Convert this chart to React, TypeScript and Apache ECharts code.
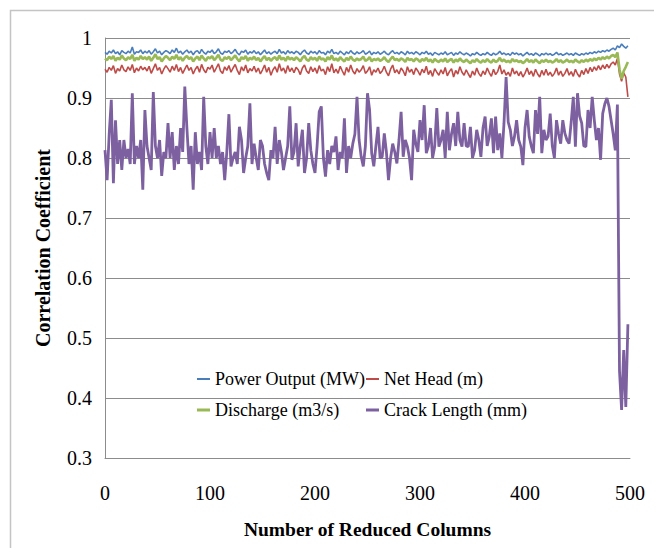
import React, { useEffect, useRef } from "react";
import * as echarts from "echarts";

// Number of reduced columns sampled every 2 columns
const columns: number[] = Array.from({ length: 250 }, (_, i) => i * 2);

const powerOutput: number[] = [
  0.976,0.973,0.978,0.975,0.980,0.974,0.977,0.972,0.979,0.976,
  0.974,0.978,0.975,0.985,0.973,0.977,0.976,0.980,0.974,0.978,
  0.975,0.979,0.973,0.977,0.982,0.975,0.978,0.972,0.976,0.979,
  0.977,0.974,0.980,0.976,0.983,0.975,0.978,0.973,0.977,0.980,
  0.975,0.978,0.972,0.977,0.979,0.974,0.981,0.976,0.973,0.978,
  0.976,0.980,0.974,0.977,0.982,0.975,0.973,0.978,0.976,0.979,
  0.974,0.977,0.981,0.975,0.972,0.978,0.976,0.980,0.973,0.977,
  0.975,0.979,0.974,0.977,0.972,0.976,0.980,0.974,0.977,0.973,
  0.976,0.978,0.974,0.981,0.975,0.977,0.973,0.979,0.975,0.977,
  0.974,0.978,0.976,0.972,0.977,0.980,0.975,0.973,0.978,0.975,
  0.977,0.973,0.979,0.975,0.976,0.972,0.978,0.975,0.981,0.974,
  0.976,0.973,0.978,0.975,0.972,0.977,0.974,0.979,0.975,0.973,
  0.977,0.974,0.976,0.979,0.973,0.975,0.978,0.972,0.976,0.974,
  0.977,0.973,0.975,0.978,0.974,0.972,0.976,0.979,0.974,0.976,
  0.973,0.977,0.975,0.972,0.978,0.974,0.976,0.973,0.977,0.975,
  0.972,0.976,0.974,0.978,0.973,0.975,0.971,0.976,0.974,0.972,
  0.975,0.973,0.977,0.972,0.974,0.976,0.971,0.975,0.973,0.977,
  0.974,0.972,0.975,0.973,0.970,0.974,0.972,0.976,0.973,0.971,
  0.974,0.972,0.976,0.973,0.971,0.975,0.972,0.974,0.978,0.973,
  0.975,0.972,0.974,0.971,0.976,0.973,0.975,0.972,0.974,0.970,
  0.973,0.976,0.972,0.974,0.971,0.975,0.973,0.970,0.974,0.972,
  0.975,0.972,0.974,0.971,0.973,0.976,0.972,0.974,0.971,0.973,
  0.975,0.972,0.974,0.971,0.975,0.973,0.971,0.974,0.972,0.975,
  0.973,0.976,0.974,0.977,0.975,0.978,0.976,0.979,0.977,0.980,
  0.978,0.981,0.983,0.980,0.987,0.984,0.990,0.986,0.983,0.987,
];

const netHead: number[] = [
  0.948,0.943,0.951,0.946,0.954,0.941,0.949,0.945,0.955,0.947,
  0.944,0.952,0.946,0.956,0.942,0.950,0.945,0.953,0.947,0.951,
  0.945,0.953,0.941,0.949,0.957,0.946,0.951,0.940,0.948,0.954,
  0.949,0.943,0.953,0.946,0.956,0.944,0.951,0.941,0.948,0.955,
  0.946,0.951,0.940,0.948,0.953,0.943,0.956,0.947,0.942,0.951,
  0.948,0.955,0.943,0.950,0.957,0.945,0.941,0.952,0.946,0.954,
  0.943,0.950,0.956,0.946,0.939,0.952,0.945,0.955,0.942,0.949,
  0.945,0.953,0.943,0.950,0.940,0.947,0.955,0.943,0.951,0.938,
  0.947,0.952,0.943,0.957,0.945,0.950,0.941,0.954,0.944,0.950,
  0.942,0.951,0.947,0.939,0.950,0.955,0.945,0.941,0.952,0.944,
  0.950,0.941,0.954,0.945,0.948,0.939,0.952,0.944,0.957,0.942,
  0.948,0.941,0.953,0.945,0.938,0.951,0.943,0.955,0.945,0.940,
  0.949,0.943,0.947,0.954,0.941,0.945,0.952,0.938,0.947,0.943,
  0.950,0.941,0.945,0.953,0.943,0.937,0.948,0.955,0.942,0.947,
  0.940,0.950,0.945,0.937,0.952,0.943,0.948,0.939,0.950,0.945,
  0.938,0.948,0.942,0.953,0.939,0.946,0.936,0.949,0.943,0.938,
  0.947,0.940,0.951,0.937,0.944,0.949,0.935,0.946,0.940,0.952,
  0.943,0.938,0.947,0.940,0.934,0.945,0.938,0.950,0.941,0.936,
  0.945,0.939,0.950,0.942,0.936,0.948,0.939,0.944,0.955,0.940,
  0.947,0.938,0.943,0.936,0.950,0.940,0.945,0.937,0.944,0.935,
  0.941,0.950,0.939,0.945,0.936,0.948,0.940,0.935,0.946,0.938,
  0.948,0.938,0.943,0.936,0.941,0.950,0.938,0.945,0.936,0.941,
  0.949,0.938,0.944,0.936,0.948,0.940,0.935,0.946,0.939,0.949,
  0.941,0.951,0.944,0.952,0.946,0.954,0.947,0.955,0.949,0.956,
  0.950,0.957,0.960,0.955,0.966,0.940,0.928,0.942,0.935,0.902,
];

const discharge: number[] = [
  0.966,0.963,0.969,0.965,0.970,0.962,0.967,0.964,0.971,0.966,
  0.963,0.968,0.965,0.972,0.962,0.967,0.964,0.970,0.965,0.968,
  0.964,0.969,0.962,0.967,0.973,0.965,0.968,0.961,0.966,0.970,
  0.967,0.963,0.969,0.965,0.972,0.964,0.968,0.962,0.967,0.970,
  0.965,0.968,0.961,0.966,0.969,0.963,0.971,0.966,0.962,0.968,
  0.966,0.970,0.963,0.967,0.972,0.964,0.962,0.968,0.965,0.969,
  0.963,0.967,0.971,0.965,0.961,0.968,0.965,0.970,0.962,0.967,
  0.964,0.969,0.963,0.967,0.961,0.966,0.970,0.963,0.967,0.962,
  0.966,0.968,0.963,0.971,0.964,0.967,0.962,0.969,0.964,0.967,
  0.963,0.968,0.965,0.961,0.967,0.970,0.964,0.962,0.968,0.964,
  0.967,0.962,0.969,0.964,0.966,0.961,0.968,0.964,0.971,0.963,
  0.966,0.962,0.968,0.964,0.961,0.967,0.963,0.969,0.964,0.962,
  0.966,0.963,0.965,0.969,0.962,0.964,0.968,0.961,0.965,0.963,
  0.966,0.962,0.964,0.968,0.963,0.960,0.965,0.969,0.963,0.965,
  0.962,0.966,0.964,0.960,0.967,0.963,0.965,0.961,0.966,0.964,
  0.960,0.965,0.962,0.967,0.961,0.964,0.959,0.965,0.962,0.960,
  0.964,0.961,0.966,0.960,0.963,0.965,0.959,0.964,0.961,0.966,
  0.962,0.960,0.964,0.961,0.958,0.963,0.960,0.965,0.961,0.959,
  0.963,0.960,0.965,0.961,0.959,0.964,0.960,0.962,0.967,0.961,
  0.964,0.960,0.962,0.959,0.965,0.961,0.963,0.960,0.962,0.958,
  0.961,0.965,0.960,0.963,0.959,0.964,0.961,0.958,0.963,0.960,
  0.964,0.960,0.962,0.959,0.961,0.965,0.960,0.963,0.959,0.961,
  0.964,0.960,0.962,0.959,0.964,0.961,0.959,0.963,0.960,0.964,
  0.961,0.965,0.962,0.966,0.963,0.967,0.964,0.968,0.965,0.969,
  0.966,0.970,0.972,0.968,0.976,0.948,0.932,0.945,0.952,0.960,
];

const crackLength: number[] = [
  0.813,0.763,0.840,0.897,0.758,0.863,0.790,0.830,0.780,0.830,
  0.800,0.815,0.790,0.908,0.790,0.820,0.800,0.830,0.747,0.880,
  0.820,0.800,0.780,0.910,0.820,0.800,0.830,0.770,0.810,0.800,
  0.858,0.800,0.843,0.780,0.820,0.790,0.850,0.810,0.919,0.850,
  0.790,0.820,0.747,0.843,0.790,0.810,0.780,0.902,0.820,0.790,
  0.843,0.800,0.850,0.800,0.820,0.790,0.810,0.763,0.810,0.873,
  0.786,0.800,0.810,0.790,0.852,0.830,0.775,0.800,0.820,0.891,
  0.790,0.824,0.800,0.780,0.830,0.820,0.790,0.775,0.763,0.813,
  0.800,0.852,0.790,0.830,0.810,0.780,0.800,0.820,0.886,0.797,
  0.810,0.858,0.786,0.820,0.847,0.775,0.800,0.858,0.813,0.790,
  0.775,0.820,0.877,0.886,0.800,0.769,0.813,0.790,0.820,0.810,
  0.836,0.780,0.810,0.800,0.866,0.775,0.820,0.800,0.824,0.840,
  0.902,0.830,0.802,0.786,0.820,0.908,0.880,0.808,0.786,0.820,
  0.852,0.800,0.802,0.841,0.810,0.763,0.800,0.824,0.810,0.791,
  0.830,0.877,0.802,0.830,0.819,0.800,0.763,0.847,0.824,0.810,
  0.863,0.830,0.888,0.808,0.820,0.850,0.800,0.819,0.883,0.819,
  0.830,0.847,0.800,0.877,0.813,0.840,0.858,0.820,0.877,0.830,
  0.819,0.858,0.820,0.819,0.852,0.800,0.813,0.847,0.830,0.802,
  0.850,0.869,0.820,0.836,0.866,0.808,0.869,0.813,0.841,0.800,
  0.858,0.935,0.860,0.847,0.820,0.836,0.863,0.830,0.819,0.788,
  0.850,0.880,0.836,0.820,0.808,0.880,0.840,0.902,0.808,0.847,
  0.830,0.836,0.874,0.820,0.800,0.863,0.840,0.824,0.863,0.841,
  0.830,0.824,0.860,0.902,0.819,0.908,0.870,0.858,0.820,0.819,
  0.880,0.850,0.902,0.863,0.830,0.850,0.797,0.874,0.890,0.900,
  0.886,0.863,0.840,0.813,0.889,0.445,0.380,0.480,0.385,0.523,
];

const yTicks = { min: 0.3, max: 1, interval: 0.1 };
const xTicks = { min: 0, max: 500, interval: 100 };

const FONT = "'Liberation Serif', 'Times New Roman', serif";

const pairs = (vals: number[]) => vals.map((v, i) => [columns[i], v]);

const seriesDefs = [
  { name: "Power Output (MW)", data: powerOutput, color: "#4a7ebb", width: 1.6 },
  { name: "Net Head (m)", data: netHead, color: "#be4b48", width: 1.6 },
  { name: "Discharge (m3/s)", data: discharge, color: "#98b954", width: 2.6 },
  { name: "Crack Length (mm)", data: crackLength, color: "#7d60a0", width: 2.8 },
];

const legendPos = [
  { left: 197, top: 370 },
  { left: 366, top: 370 },
  { left: 197, top: 401 },
  { left: 366, top: 401 },
];

export default function App() {
  const ref = useRef<HTMLDivElement>(null);

  useEffect(() => {
    if (!ref.current) return;
    const chart = echarts.init(ref.current, undefined, { renderer: "svg" });
    const gridColor = "#8c8c8c";
    chart.setOption({
      animation: false,
      backgroundColor: "#ffffff",
      graphic: [
        {
          type: "rect",
          shape: { x: 10.5, y: 10.5, width: 646, height: 560 },
          style: { fill: "none", stroke: "#c4c4c4", lineWidth: 1.5 },
          silent: true,
        },
      ],
      grid: { left: 105, right: 32, top: 38, bottom: 98, containLabel: false },
      legend: seriesDefs.map((s, i) => ({
        data: [s.name],
        left: legendPos[i].left,
        top: legendPos[i].top,
        padding: 0,
        icon: "rect",
        itemWidth: 13,
        itemHeight: i < 2 ? 2 : 3,
        selectedMode: false,
        textStyle: { fontFamily: FONT, fontSize: 18, color: "#000" },
      })),
      xAxis: {
        type: "value",
        ...xTicks,
        name: "Number of Reduced Columns",
        nameLocation: "middle",
        nameGap: 61,
        nameTextStyle: { fontFamily: FONT, fontSize: 19.5, fontWeight: "bold", color: "#000" },
        axisLine: { show: true, lineStyle: { color: gridColor, width: 1 } },
        axisTick: { show: false },
        splitLine: { show: false },
        axisLabel: { fontFamily: FONT, fontSize: 20, color: "#000", margin: 25 },
      },
      yAxis: {
        type: "value",
        ...yTicks,
        name: "Correlation Coefficient",
        nameLocation: "middle",
        nameGap: 52,
        nameTextStyle: { fontFamily: FONT, fontSize: 20, fontWeight: "bold", color: "#000" },
        axisLine: { show: true, lineStyle: { color: gridColor, width: 1 } },
        axisTick: { show: false },
        splitLine: { show: true, lineStyle: { color: gridColor, width: 1 } },
        axisLabel: {
          fontFamily: FONT,
          fontSize: 20,
          color: "#000",
          margin: 13,
          formatter: (v: number) => String(Math.round(v * 10) / 10),
        },
      },
      series: seriesDefs.map((s) => ({
        name: s.name,
        type: "line",
        data: pairs(s.data),
        showSymbol: false,
        symbol: "none",
        lineStyle: { color: s.color, width: s.width },
        itemStyle: { color: s.color },
        z: 2,
      })),
    });
    return () => chart.dispose();
  }, []);

  return <div ref={ref} style={{ width: 662, height: 556, margin: -8 }} />;
}
